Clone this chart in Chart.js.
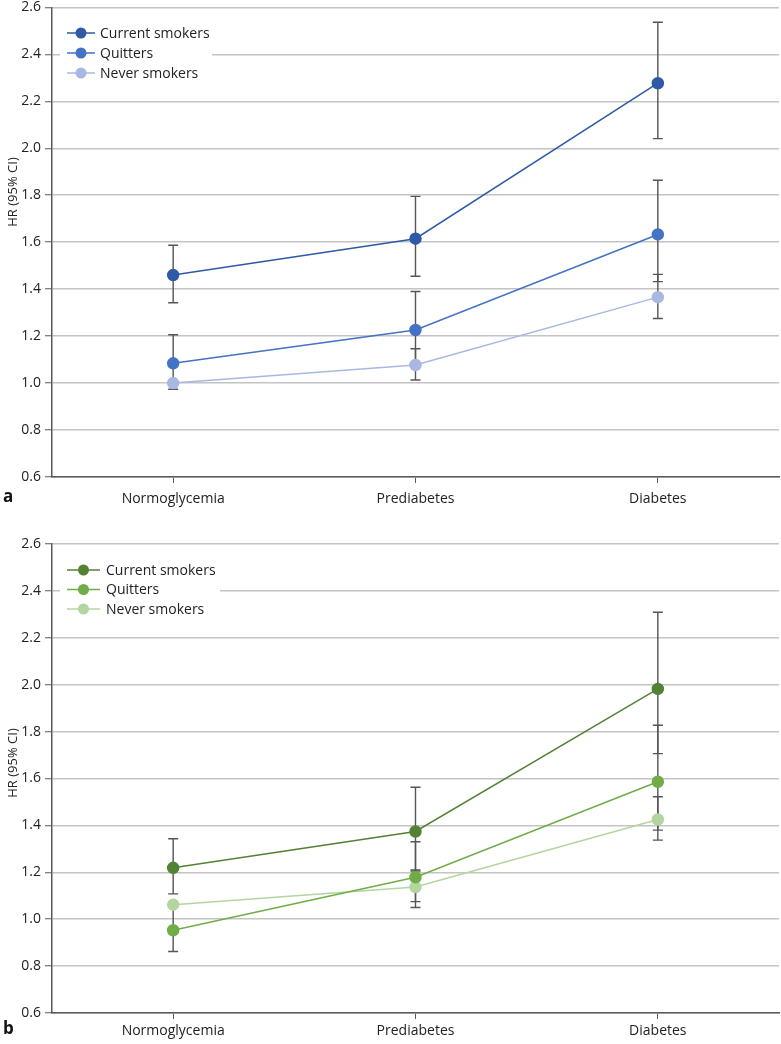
<!DOCTYPE html>
<html>
<head>
<meta charset="utf-8">
<script src="https://cdn.jsdelivr.net/npm/chart.js@4.4.1/dist/chart.umd.min.js"></script>
<style>
  html, body { margin: 0; padding: 0; background: #fff; }
  body { width: 781px; height: 1044px; position: relative; overflow: hidden; }
  canvas { position: absolute; left: 0; }
</style>
</head>
<body>
<canvas id="chartA" width="786" height="522" style="top:-5px"></canvas>
<canvas id="chartB" width="786" height="522" style="top:522px"></canvas>
<script>
// ---- Data ----
const categories = ['Normoglycemia', 'Prediabetes', 'Diabetes'];
const seriesNames = ['Current smokers', 'Quitters', 'Never smokers'];
const yTitle = 'HR (95% CI)';
const yTickMin = 0.6, yTickMax = 2.6, yTickStep = 0.2;

// Panel a
const currentA    = [1.46, 1.615, 2.277];
const currentA_lo = [1.342, 1.455, 2.041];
const currentA_hi = [1.587, 1.795, 2.537];
const quittersA    = [1.084, 1.226, 1.633];
const quittersA_lo = [0.974, 1.08, 1.432];
const quittersA_hi = [1.206, 1.39, 1.864];
const neverA    = [1.0, 1.077, 1.366];
const neverA_lo = [null, 1.013, 1.275];
const neverA_hi = [null, 1.146, 1.463];

// Panel b
const currentB    = [1.219, 1.374, 1.982];
const currentB_lo = [1.108, 1.205, 1.706];
const currentB_hi = [1.343, 1.563, 2.309];
const quittersB    = [0.953, 1.179, 1.586];
const quittersB_lo = [0.862, 1.05, 1.38];
const quittersB_hi = [1.06, 1.33, 1.827];
const neverB    = [1.062, 1.137, 1.425];
const neverB_lo = [null, 1.075, 1.337];
const neverB_hi = [null, 1.21, 1.522];

const FONT = '"Open Sans", "Noto Sans", sans-serif';
const AXIS_COLOR = '#595959';
const GRID_COLOR = '#c4c4c4';
const ERR_COLOR = '#555555';

function makeDataset(label, data, lo, hi, color) {
  return {
    label, data,
    errLo: lo, errHi: hi,
    borderColor: color, backgroundColor: color,
    pointBackgroundColor: color, pointBorderColor: color,
    borderWidth: 1.5, pointRadius: 5.5, pointHoverRadius: 5.5,
    tension: 0, fill: false
  };
}

const errorBarPlugin = {
  id: 'errorBars',
  beforeDatasetsDraw(chart) {
    const ctx = chart.ctx;
    const xs = chart.scales.x, ys = chart.scales.y;
    ctx.save();
    ctx.strokeStyle = ERR_COLOR;
    ctx.lineWidth = 1.4;
    chart.data.datasets.forEach(ds => {
      ds.data.forEach((v, i) => {
        const lo = ds.errLo[i], hi = ds.errHi[i];
        if (lo == null || hi == null) return;
        const x = xs.getPixelForValue(i);
        const yl = ys.getPixelForValue(lo), yh = ys.getPixelForValue(hi);
        ctx.beginPath();
        ctx.moveTo(x, yl); ctx.lineTo(x, yh);
        ctx.moveTo(x - 5, yl); ctx.lineTo(x + 5, yl);
        ctx.moveTo(x - 5, yh); ctx.lineTo(x + 5, yh);
        ctx.stroke();
      });
    });
    // legend box (covers grid lines)
    const lg = chart.options.plugins.customLegend;
    ctx.fillStyle = '#fff';
    ctx.fillRect(lg.x, lg.y, lg.w, lg.h);
    ctx.font = '14px ' + FONT;
    ctx.textBaseline = 'middle';
    chart.data.datasets.forEach((ds, k) => {
      const y = lg.rowY + k * lg.rowH;
      ctx.strokeStyle = ds.borderColor;
      ctx.lineWidth = 1.5;
      ctx.beginPath();
      ctx.moveTo(lg.lineX0, y); ctx.lineTo(lg.lineX1, y); ctx.stroke();
      ctx.fillStyle = ds.borderColor;
      ctx.beginPath();
      ctx.arc((lg.lineX0 + lg.lineX1) / 2, y, 5.5, 0, Math.PI * 2);
      ctx.fill();
      ctx.fillStyle = '#222';
      ctx.textAlign = 'left';
      ctx.fillText(ds.label, lg.textX, y + 1);
    });
    ctx.restore();
  },
  afterDraw(chart) {
    const p = chart.options.plugins.panelLabel;
    const ctx = chart.ctx;
    ctx.save();
    ctx.font = 'bold 17px ' + FONT;
    ctx.fillStyle = '#111';
    ctx.textBaseline = 'middle';
    ctx.textAlign = 'left';
    ctx.fillText(p.text, p.x, p.y);
    // y-axis title
    ctx.translate(p.titleX, p.titleY);
    ctx.rotate(-Math.PI / 2);
    ctx.font = '13px ' + FONT;
    ctx.fillStyle = '#222';
    ctx.textAlign = 'center';
    ctx.fillText(yTitle, 0, 0);
    ctx.restore();
  }
};

function makeChart(id, datasets, cfg) {
  return new Chart(document.getElementById(id), {
    type: 'line',
    data: { labels: categories, datasets },
    plugins: [errorBarPlugin],
    options: {
      responsive: false,
      animation: false,
      layout: { padding: { top: cfg.padTop, right: 3, left: 0, bottom: 0 } },
      plugins: {
        legend: { display: false },
        tooltip: { enabled: false },
        customLegend: cfg.legend,
        panelLabel: cfg.panel
      },
      scales: {
        x: {
          type: 'category',
          offset: true,
          grid: { display: true, drawOnChartArea: false, offset: false, tickLength: 6, tickColor: AXIS_COLOR, tickWidth: 1 },
          border: { display: true, color: AXIS_COLOR, width: 1.5 },
          ticks: { color: '#222', font: { family: FONT, size: 14 }, padding: cfg.xPad },
          afterFit(scale) { scale.height = cfg.xHeight; }
        },
        y: {
          min: yTickMin, max: yTickMax,
          ticks: {
            stepSize: yTickStep, color: '#222',
            font: { family: FONT, size: 14 }, padding: 4,
            callback: v => v.toFixed(1)
          },
          grid: { color: GRID_COLOR, lineWidth: 1.5, tickLength: 7, tickColor: AXIS_COLOR, tickWidth: 1 },
          border: { display: true, color: AXIS_COLOR, width: 1.5 },
          title: { display: false },
          afterFit(scale) { scale.width = 52; }
        }
      }
    }
  });
}

// chart A canvas is shifted up by 5px, so canvas y = page y + 5
makeChart('chartA', [
  makeDataset(seriesNames[0], currentA, currentA_lo, currentA_hi, '#2f5aa6'),
  makeDataset(seriesNames[1], quittersA, quittersA_lo, quittersA_hi, '#4472c4'),
  makeDataset(seriesNames[2], neverA, neverA_lo, neverA_hi, '#a8b8e2')
], {
  padTop: 7, xHeight: 40, xPad: 8,
  legend: { x: 60, y: 25, w: 152, h: 64, rowY: 38, rowH: 20, lineX0: 67, lineX1: 95, textX: 100 },
  panel: { text: 'a', x: 3, y: 502, titleX: 13, titleY: 197 }
});

makeChart('chartB', [
  makeDataset(seriesNames[0], currentB, currentB_lo, currentB_hi, '#548235'),
  makeDataset(seriesNames[1], quittersB, quittersB_lo, quittersB_hi, '#70ad47'),
  makeDataset(seriesNames[2], neverB, neverB_lo, neverB_hi, '#b3d6a0')
], {
  padTop: 22, xHeight: 31, xPad: 4,
  legend: { x: 60, y: 36, w: 160, h: 62, rowY: 48, rowH: 19.5, lineX0: 67, lineX1: 100, textX: 106 },
  panel: { text: 'b', x: 3, y: 507, titleX: 13, titleY: 241 }
});
</script>
</body>
</html>
